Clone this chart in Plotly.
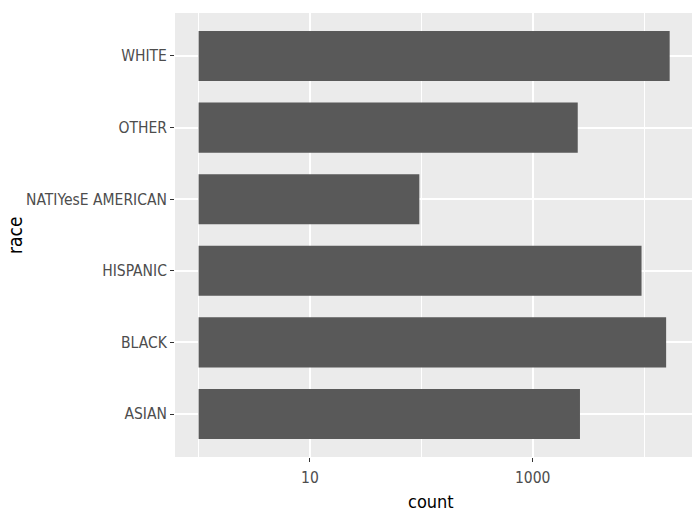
import plotly.graph_objects as go

# Counts per race category (log-scaled x axis)
races = ["ASIAN", "BLACK", "HISPANIC", "NATIYesE AMERICAN", "OTHER", "WHITE"]
counts = [2660, 15800, 9500, 96, 2540, 17000]

# Axis ticks
major_ticks = [10, 1000]
major_labels = ["10", "1000"]
minor_ticks = [1, 100, 10000]

FONT = "Liberation Sans Narrow, Arial Narrow, DejaVu Sans Condensed, Liberation Sans, Arial, sans-serif"

# bars rise from 1 (log10 = 0) like a log-transformed count
fig = go.Figure(
    go.Bar(
        y=races,
        x=[c - 1 for c in counts],
        base=[1] * len(counts),
        orientation="h",
        width=0.7,
        marker=dict(color="#595959", line=dict(width=0)),
    )
)

fig.update_layout(
    width=697,
    height=513,
    margin=dict(l=175, r=5, t=13, b=56),
    paper_bgcolor="white",
    plot_bgcolor="#EBEBEB",
    showlegend=False,
    font=dict(family=FONT),
    bargap=0.3,
)

fig.update_xaxes(
    type="log",
    range=[-0.212, 4.431],
    automargin=False,
    tickvals=major_ticks,
    ticktext=major_labels,
    ticks="outside",
    ticklen=4,
    tickwidth=1,
    tickcolor="#333333",
    ticklabelstandoff=2,
    tickfont=dict(size=15.5, color="#4D4D4D", family=FONT),
    showgrid=True,
    gridcolor="white",
    gridwidth=1.6,
    minor=dict(tickvals=minor_ticks, showgrid=True, gridcolor="white", gridwidth=0.8, ticks=""),
    zeroline=False,
    showline=False,
)

fig.update_yaxes(
    range=[-0.6, 5.6],
    automargin=False,
    ticks="outside",
    ticklen=4,
    tickwidth=1,
    tickcolor="#333333",
    tickfont=dict(size=15.5, color="#4D4D4D", family=FONT),
    showgrid=True,
    gridcolor="white",
    gridwidth=1.6,
    zeroline=False,
    showline=False,
)

# axis titles as annotations so they sit at fixed offsets from the panel
fig.add_annotation(
    text="count",
    xref="paper",
    yref="paper",
    x=0.495,
    y=-0.1,
    xanchor="center",
    yanchor="middle",
    showarrow=False,
    font=dict(size=18, color="black", family=FONT),
)
fig.add_annotation(
    text="race",
    xref="paper",
    yref="paper",
    x=-0.3095,
    y=0.5,
    xanchor="center",
    yanchor="middle",
    textangle=-90,
    showarrow=False,
    font=dict(size=19, color="black", family=FONT),
)

fig.write_html("out.html")
